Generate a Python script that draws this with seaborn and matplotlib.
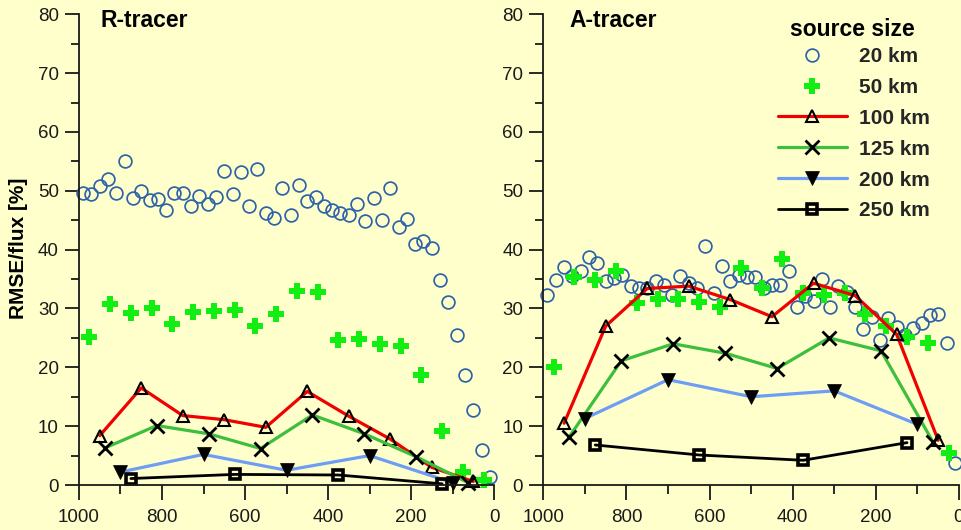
import matplotlib
matplotlib.use("Agg")
import matplotlib.pyplot as plt
from matplotlib.ticker import MultipleLocator
import pandas as pd
import seaborn as sns

# ---------------------------------------------------------------- data
# distance from source [km] at which each source size was evaluated
x_20 = list(range(990, 0, -20))
x_50 = list(range(975, 0, -50))
x_100 = list(range(950, 0, -100))
x_125 = [937.5, 812.5, 687.5, 562.5, 437.5, 312.5, 187.5, 62.5]
x_200 = [900, 700, 500, 300, 100]
x_250 = [875, 625, 375, 125]

# R-tracer, RMSE/flux [%]
r_20 = [49.7, 49.4, 50.9, 52.0, 49.7, 55.0, 48.8, 49.9, 48.4, 48.6,
        46.8, 49.6, 49.7, 47.4, 49.1, 47.8, 49.0, 53.3, 49.4, 53.2,
        47.4, 53.7, 46.3, 45.4, 50.4, 45.9, 51.0, 48.2, 49.0, 47.4,
        46.8, 46.3, 45.9, 47.8, 44.8, 48.8, 45.0, 50.5, 43.9, 45.2,
        41.0, 41.5, 40.2, 34.9, 31.1, 25.5, 18.7, 12.7, 6.0, 1.4]
r_50 = [25.1, 30.8, 29.2, 30.0, 27.3, 29.4, 29.6, 29.8, 27.1, 29.1,
        32.9, 32.8, 24.7, 24.8, 24.0, 23.7, 18.7, 9.1, 2.2, 0.8]
r_100 = [8.4, 16.5, 11.8, 11.1, 9.8, 15.9, 11.7, 7.8, 3.0, 0.6]
r_125 = [6.3, 10.1, 8.7, 6.2, 11.9, 8.7, 4.8, 0.4]
r_200 = [2.2, 5.2, 2.5, 5.0, 0.4]
r_250 = [1.1, 1.8, 1.7, 0.2]

# A-tracer, RMSE/flux [%]
a_20 = [32.3, 34.9, 37.0, 35.5, 36.4, 38.8, 37.7, 34.6, 35.1, 35.7,
        33.8, 33.4, 33.4, 34.7, 34.0, 32.3, 35.5, 34.3, 33.4, 40.7,
        32.6, 37.2, 34.6, 35.7, 35.4, 35.4, 33.4, 34.0, 34.0, 36.4,
        30.2, 32.1, 31.3, 35.0, 30.3, 33.8, 32.8, 30.2, 26.5, 28.5,
        24.7, 28.4, 26.8, 25.5, 26.6, 27.6, 28.9, 29.1, 24.2, 3.8]
a_50 = [20.1, 35.4, 34.9, 36.4, 30.9, 31.6, 31.6, 31.1, 30.2, 36.8,
        33.5, 38.4, 32.6, 32.3, 32.6, 29.1, 27.1, 25.2, 24.1, 5.5]
a_100 = [10.5, 27.0, 33.4, 33.8, 31.5, 28.6, 34.3, 32.2, 25.6, 7.6]
a_125 = [8.2, 21.1, 24.0, 22.4, 19.8, 25.0, 22.8, 7.3]
a_200 = [11.3, 17.9, 15.0, 16.0, 10.3]
a_250 = [6.8, 5.1, 4.2, 7.2]

sizes = ["20 km", "50 km", "100 km", "125 km", "200 km", "250 km"]
x_all = [x_20, x_50, x_100, x_125, x_200, x_250]
r_all = [r_20, r_50, r_100, r_125, r_200, r_250]
a_all = [a_20, a_50, a_100, a_125, a_200, a_250]

# ---------------------------------------------------------------- style
BG = "#FFFFCC"
INK = "#1a1a1a"
sns.set_theme(style="ticks")
plt.rcParams.update({
    "font.family": ["Liberation Sans", "DejaVu Sans"],
    "figure.facecolor": BG,
    "axes.facecolor": BG,
    "axes.edgecolor": INK,
    "axes.linewidth": 1.3,
    "xtick.color": INK,
    "ytick.color": INK,
    "xtick.labelcolor": INK,
    "ytick.labelcolor": INK,
    "xtick.labelsize": 13.5,
    "ytick.labelsize": 13.5,
    "xtick.major.size": 10.5,
    "xtick.minor.size": 6.5,
    "ytick.major.size": 10.0,
    "ytick.minor.size": 5.8,
    "xtick.major.width": 1.3,
    "xtick.minor.width": 1.3,
    "ytick.major.width": 1.3,
    "ytick.minor.width": 1.3,
    "xtick.major.pad": 7,
    "ytick.major.pad": 4.5,
    "xtick.direction": "out",
    "ytick.direction": "out",
})

styles = [
    dict(linestyle="", marker="o", ms=9.2, mfc="none", mec="#2F63A8", mew=1.25),
    dict(linestyle="", marker="P", ms=11.0, mfc="#12EE12", mec="#12EE12", mew=0),
    dict(color="#F20000", lw=2.3, marker="^", ms=8.4, mfc="none", mec="black", mew=1.5),
    dict(color="#3DBE3D", lw=2.3, marker="x", ms=10.0, mec="black", mew=2.0),
    dict(color="#6E9DF4", lw=2.3, marker="v", ms=9.7, mfc="black", mec="black", mew=0.5),
    dict(color="black", lw=2.0, marker="s", ms=6.8, mfc="none", mec="black", mew=2.6),
]

fig = plt.figure(figsize=(9.61, 5.30), dpi=100)
W, H = 961.0, 530.0
ax_r = fig.add_axes([79 / W, (H - 485) / H, 415 / W, 470.7 / H])
ax_a = fig.add_axes([543.3 / W, (H - 485) / H, 415.7 / W, 470.7 / H])


def draw_panel(ax, values, title, title_x, labelled):
    for xs, ys, name, st in zip(x_all, values, sizes, styles):
        df = pd.DataFrame({"distance": xs, "rmse": ys})
        sns.lineplot(data=df, x="distance", y="rmse", ax=ax, estimator=None,
                     sort=False, legend=False, clip_on=False,
                     label=name if labelled else None, **st)
    ax.set_xlim(1000, 0)
    ax.set_ylim(0, 80)
    ax.xaxis.set_major_locator(MultipleLocator(200))
    ax.xaxis.set_minor_locator(MultipleLocator(100))
    ax.yaxis.set_major_locator(MultipleLocator(10))
    ax.yaxis.set_minor_locator(MultipleLocator(5))
    ax.set_xlabel("")
    ax.set_ylabel("")
    sns.despine(ax=ax)
    ax.text(title_x, 0.9737, title, transform=ax.transAxes, ha="left",
            va="baseline", fontsize=16.5, fontweight="bold", color="black")


draw_panel(ax_r, r_all, "R-tracer", 0.053, False)
draw_panel(ax_a, a_all, "A-tracer", 0.0626, True)

fig.text(19 / W, (H - 248.5) / H, "RMSE/flux [%]", rotation=90,
         ha="center", va="center", fontsize=15, fontweight="bold", color="black")

# legend: heading as its own text so the row spacing can be set freely
fig.text(852 / W, (H - 36) / H, "source size", ha="center", va="baseline",
         fontsize=16.5, fontweight="bold", color="black")
handles, labels = ax_a.get_legend_handles_labels()
leg = ax_a.legend(handles, labels, loc="upper left",
                  bbox_to_anchor=(778 / W, (H - 47) / H),
                  bbox_transform=fig.transFigure,
                  frameon=False, borderpad=0, borderaxespad=0,
                  handlelength=3.3, handletextpad=0.58, labelspacing=0.57,
                  numpoints=1, prop={"weight": "bold", "size": 15})

fig.savefig("out.png", dpi=100, facecolor=BG)
